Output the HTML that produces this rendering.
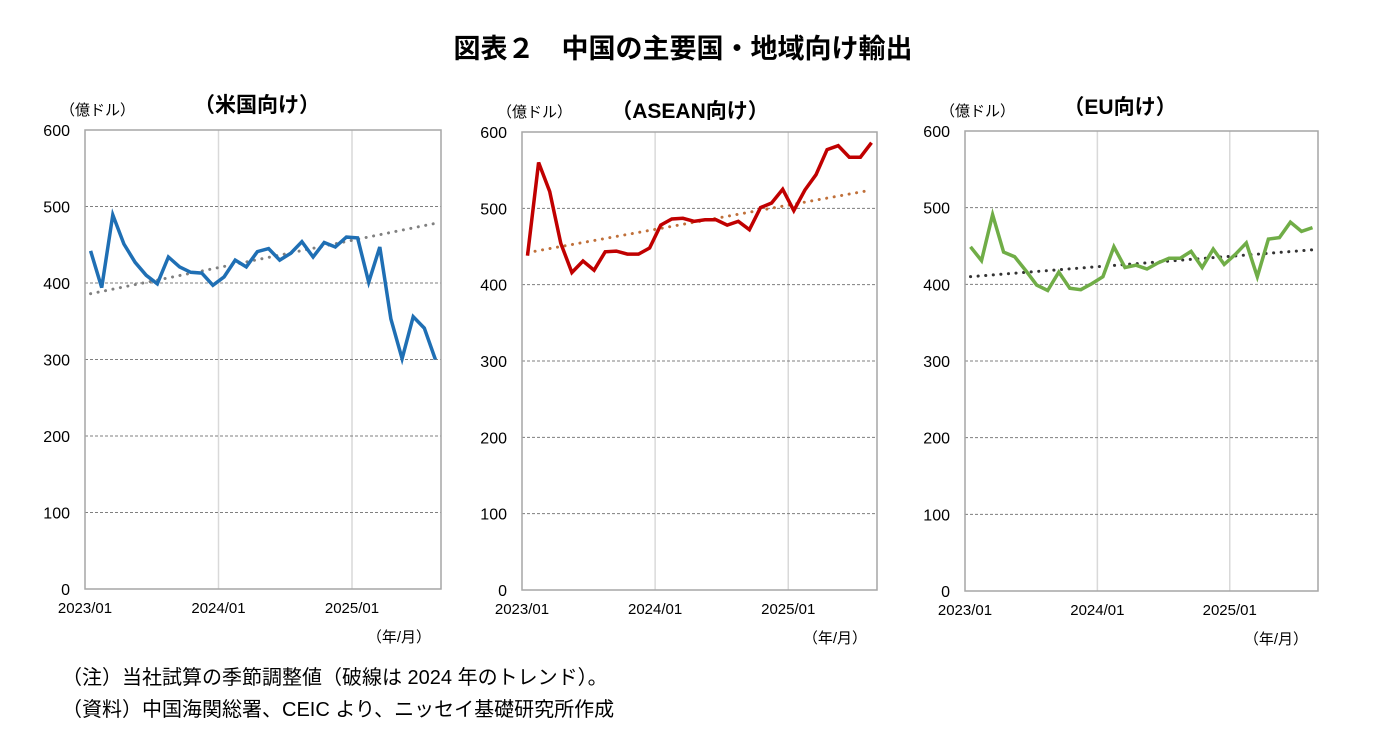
<!DOCTYPE html>
<html><head><meta charset="utf-8"><style>
body{margin:0;background:#fff;width:1381px;height:749px;overflow:hidden;font-family:"Liberation Sans","Noto Sans CJK JP",sans-serif;}
svg text{font-family:"Liberation Sans","Noto Sans CJK JP",sans-serif;}
</style></head><body>
<svg id="chart" width="1381" height="749">
<text x="683" y="58" text-anchor="middle" font-size="27" font-weight="bold">図表２　中国の主要国・地域向け輸出</text>
<text x="62" y="684" font-size="20">（注）当社試算の季節調整値（破線は 2024 年のトレンド）。</text>
<text x="62" y="716" font-size="20">（資料）中国海関総署、CEIC より、ニッセイ基礎研究所作成</text>
</svg>
<script>
const yTicks=[0,100,200,300,400,500,600];
const xLabels=["2023/01","2024/01","2025/01"];
const usValues=[442,394,489,451,427,410,399,434,421,414,413,397,408,430,421,441,445,430,439,454,434,453,447,460,459,401,447,353,301,356,341,300];
const usTrend=[386,478];
const aseanValues=[438,560,522,454,416,431,419,443,444,440,440,448,478,486,487,483,485,485,478,483,472,501,507,525,497,524,544,577,582,567,567,586];
const aseanTrend=[442,524];
const euValues=[449,431,491,442,436,418,399,392,416,395,393,401,410,449,422,425,420,428,434,434,443,422,446,426,439,454,410,459,461,481,469,474];
const euTrend=[410,445];
const panels=[
 {name:"us",title:"（米国向け）",vals:usValues,trend:usTrend,color:"#1f6fb4",tcolor:"#808080",l:85,r:441,t:130,b:589,tx:257,ty:112},
 {name:"asean",title:"（ASEAN向け）",vals:aseanValues,trend:aseanTrend,color:"#c00000",tcolor:"#c0703a",l:522,r:877,t:132,b:590,tx:690,ty:118},
 {name:"eu",title:"（EU向け）",vals:euValues,trend:euTrend,color:"#70ad47",tcolor:"#333333",l:965,r:1318,t:131,b:591,tx:1120,ty:114}
];
const NS="http://www.w3.org/2000/svg";
const svg=document.getElementById("chart");
function mk(tag,attrs,parent){const e=document.createElementNS(NS,tag);for(const k in attrs)e.setAttribute(k,attrs[k]);(parent||svg).appendChild(e);return e;}
panels.forEach(p=>{
 const g=mk("g",{});
 
 
 const n=32;
 const cw=(p.r-p.l)/n;
 const xs=i=>p.l+cw*(i+0.5);
 const ys=v=>p.b-(v-0)/600*(p.b-p.t);
 [12,24].forEach(k=>{const l=mk("line",{x1:p.l+cw*k,x2:p.l+cw*k,y1:p.t,y2:p.b,stroke:"#d9d9d9","stroke-width":1.5},g);
  
  });
 yTicks.forEach(v=>{
  if(v>0&&v<600){const l=mk("line",{x1:p.l,x2:p.r,y1:ys(v),y2:ys(v),stroke:"#7f7f7f","stroke-width":1,"stroke-dasharray":"3,2"},g);
   
   }
  const t=mk("text",{x:p.l-15,y:ys(v)+6,"text-anchor":"end","font-size":16},g);t.textContent=v;
  
  
 });
 const fr=mk("rect",{x:p.l,y:p.t,width:p.r-p.l,height:p.b-p.t,fill:"none",stroke:"#a6a6a6","stroke-width":1.5},g);
 
 
 xLabels.forEach((s,i)=>{const t=mk("text",{x:p.l+cw*12*i,y:p.b+24,"text-anchor":"middle","font-size":15},g);t.textContent=s;
  
  });
 const u=mk("text",{x:p.r-10,y:p.b+53,"text-anchor":"end","font-size":15},g);u.textContent="（年/月）";
 
 
 const yu=mk("text",{x:p.l-25,y:p.t-15,"font-size":15},g);yu.textContent="（億ドル）";
 
 
 const ti=mk("text",{x:p.tx,y:p.ty,"text-anchor":"middle","font-size":21,"font-weight":"bold"},g);ti.textContent=p.title;
 
 
 const tr=mk("line",{x1:xs(0),y1:ys(p.trend[0]),x2:xs(p.vals.length-1),y2:ys(p.trend[1]),stroke:p.tcolor,"stroke-width":3,"stroke-dasharray":"0.1,7.5","stroke-linecap":"round"},g);
 
 
 const pts=p.vals.map((v,i)=>xs(i).toFixed(1)+","+ys(v).toFixed(1)).join(" ");
 const pl=mk("polyline",{points:pts,fill:"none",stroke:p.color,"stroke-width":3.5,"stroke-linejoin":"miter"},g);
 
 
});
</script>
</body></html>
